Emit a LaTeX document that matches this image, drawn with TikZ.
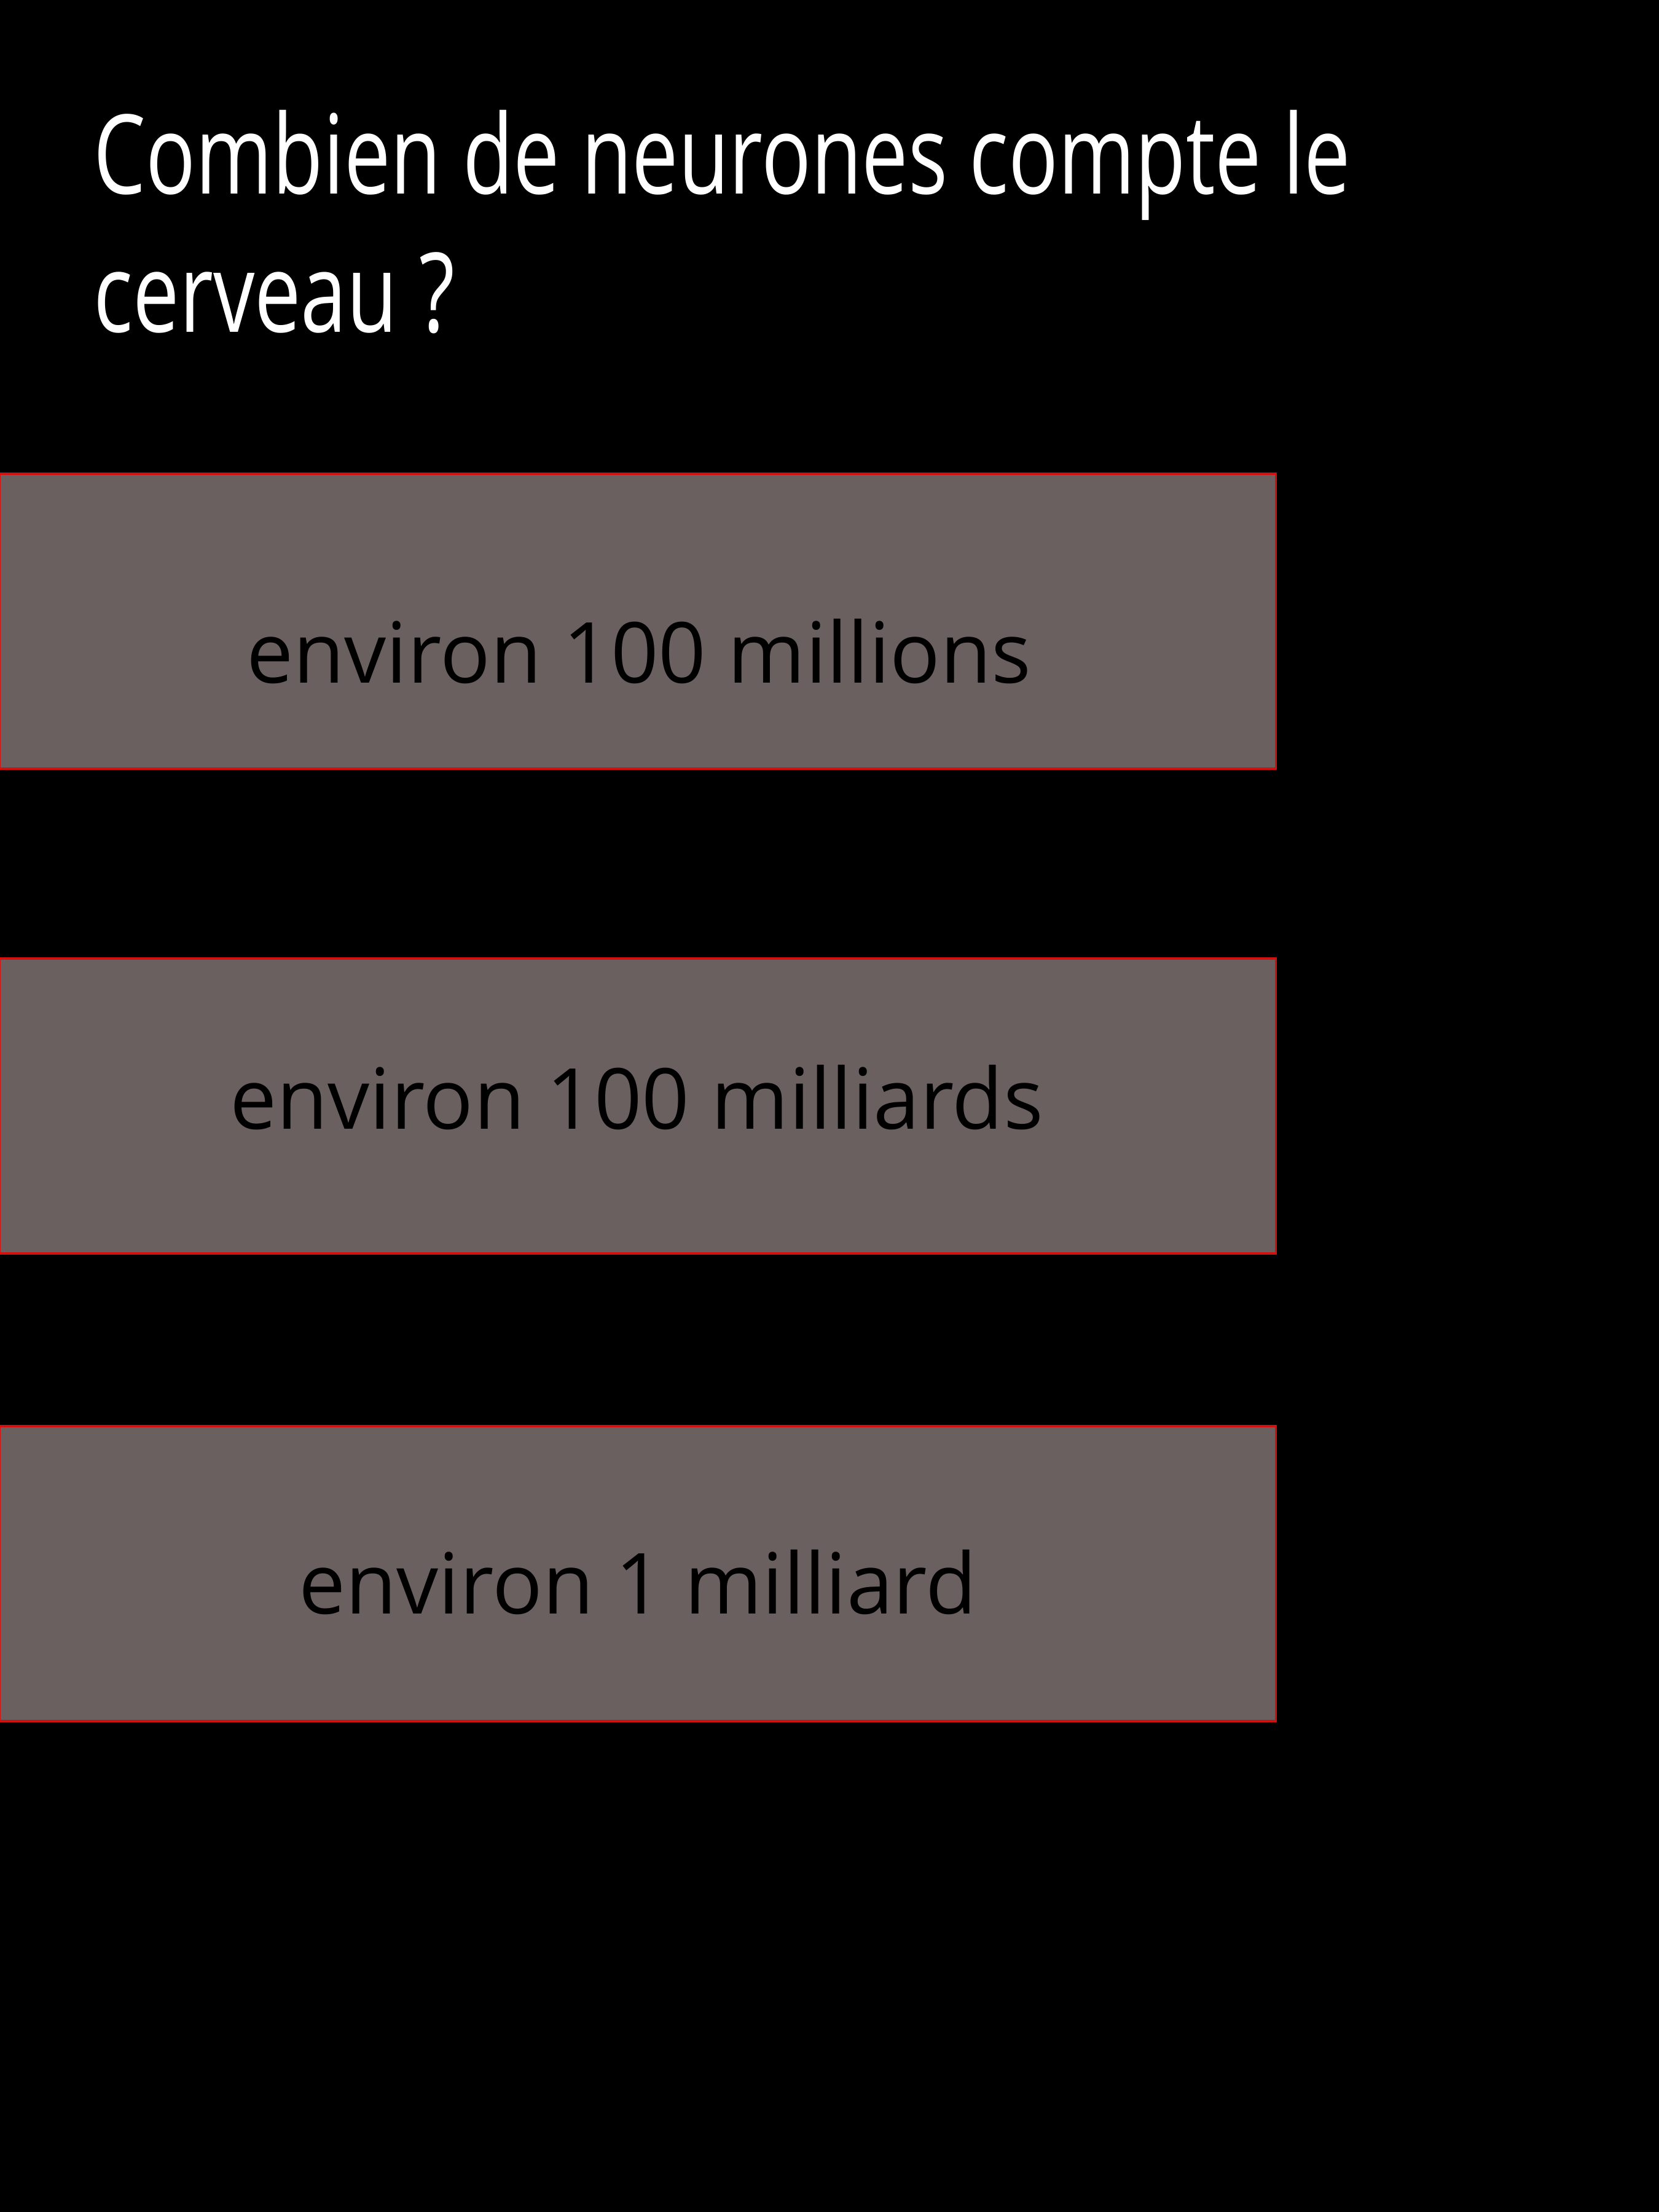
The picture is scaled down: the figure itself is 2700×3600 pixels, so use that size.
\documentclass[tikz,border=0pt]{standalone}
\usepackage{fontspec}
\setmainfont{Open Sans}
\newfontfamily\titlefont[FakeStretch=0.75]{Open Sans}
\newfontfamily\optfont[FakeStretch=0.99]{Open Sans}
\definecolor{boxfill}{RGB}{106,96,96}
\definecolor{boxred}{RGB}{210,16,16}
\tikzset{
  optbox/.style={draw=boxred, fill=boxfill, line width=0.035cm, inner sep=0pt,
    minimum width=20.76cm, minimum height=4.80cm},
  opttext/.style={anchor=base, inner sep=0pt, text=black,
    font=\optfont\fontsize{39}{47}\selectfont},
  titletext/.style={anchor=base west, inner sep=0pt, text=white,
    font=\titlefont\fontsize{51}{64}\selectfont}
}
\begin{document}
\begin{tikzpicture}[x=0.01cm, y=-0.01cm]
  \fill[black] (0,0) rectangle (2700,3600);
  \useasboundingbox (0,0) rectangle (2700,3600);
  \node[titletext] (title1) at (152,315) {Combien de neurones compte le};
  \node[titletext] (title2) at (152,540) {cerveau ?};
  \node[optbox] (b1) at (1038,1011) {};
  \node[optbox] (b2) at (1038,1800) {};
  \node[optbox] (b3) at (1038,2561) {};
  \node[opttext] (t1) at (1040,1111) {environ 100 millions};
  \node[opttext] (t2) at (1036,1837) {environ 100 milliards};
  \node[opttext] (t3) at (1038,2626) {environ 1 milliard};
\end{tikzpicture}
\end{document}
